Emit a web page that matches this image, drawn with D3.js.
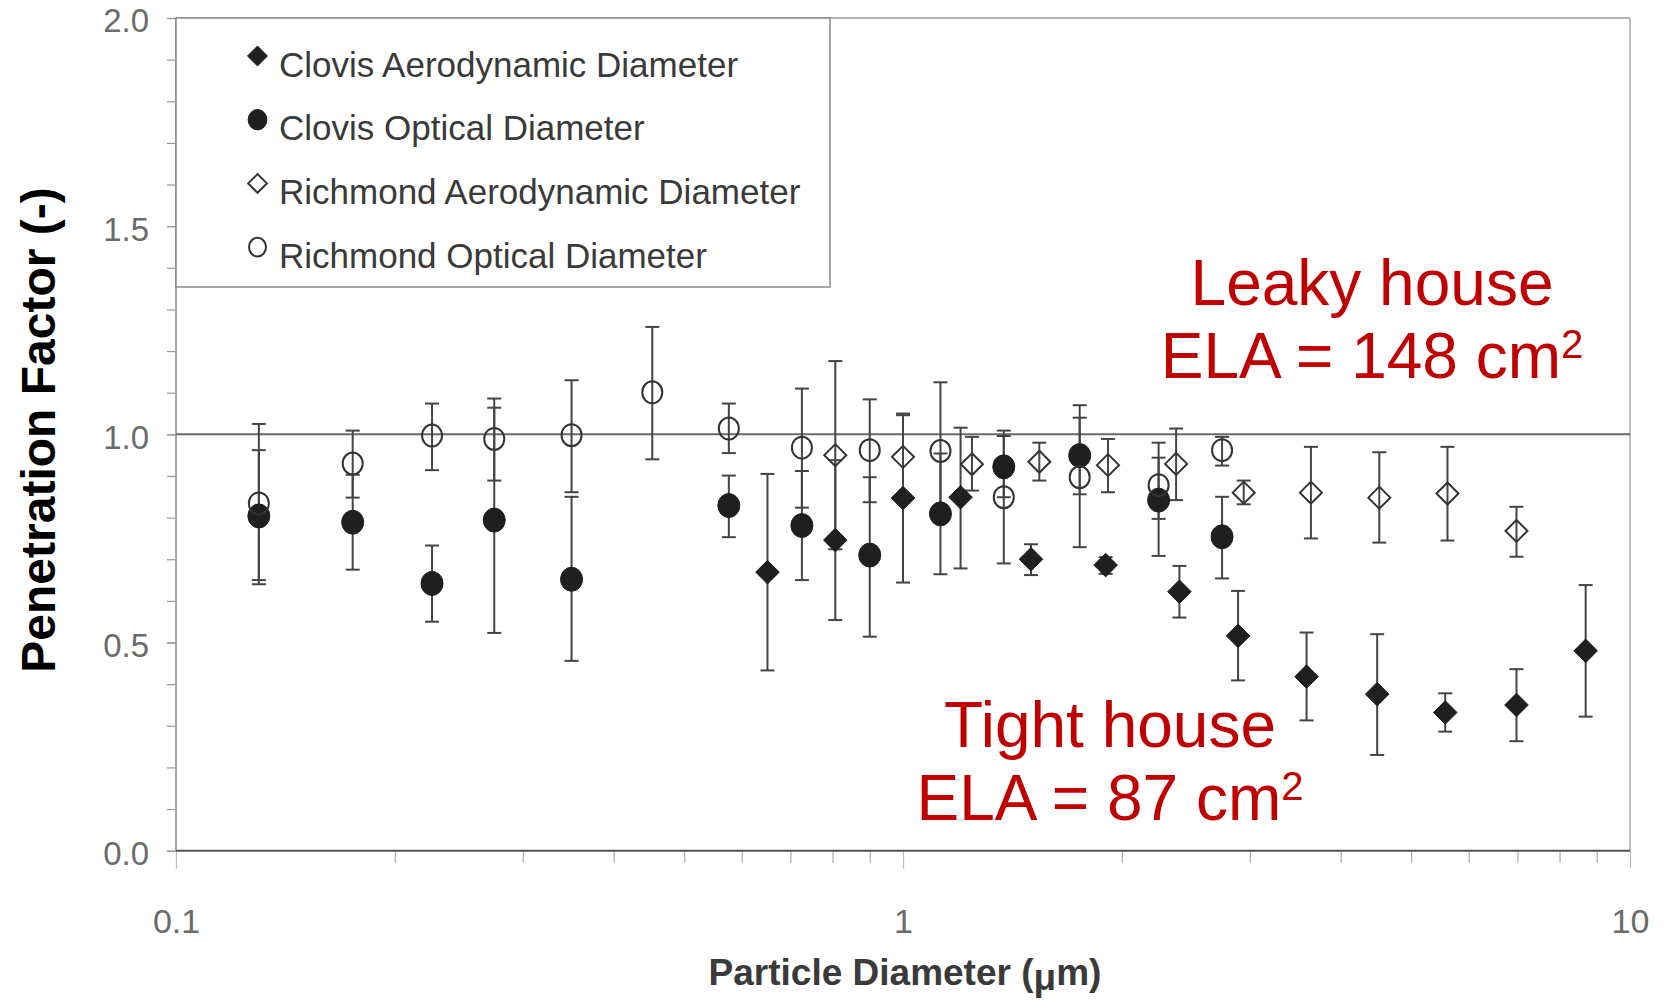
<!DOCTYPE html>
<html>
<head>
<meta charset="utf-8">
<script src="https://cdn.jsdelivr.net/npm/d3@7"></script>
<style>
  body { margin: 0; background: #fff; }
  svg { display: block; }
</style>
</head>
<body>
<svg id="chart" width="1669" height="1001"></svg>
<script>
// ---- Data: penetration factor vs particle diameter (µm), with error-bar limits ----

// Clovis, aerodynamic diameter
const clovisAeroDiam = [0.651, 0.807, 1.00, 1.20, 1.50, 1.90, 2.40, 2.89, 3.59, 4.49, 5.57, 6.98, 8.69];
const clovisAeroPF   = [0.669, 0.746, 0.847, 0.849, 0.700, 0.686, 0.622, 0.516, 0.418, 0.376, 0.332, 0.350, 0.480];
const clovisAeroLow  = [0.433, 0.554, 0.644, 0.678, 0.662, 0.665, 0.560, 0.409, 0.313, 0.230, 0.286, 0.263, 0.322];
const clovisAeroHigh = [0.905, 0.938, 1.050, 1.016, 0.736, 0.705, 0.684, 0.624, 0.524, 0.520, 0.378, 0.436, 0.638];

// Clovis, optical diameter
const clovisOptDiam = [0.130, 0.175, 0.225, 0.274, 0.350, 0.576, 0.726, 0.900, 1.126, 1.376, 1.750, 2.247, 2.747];
const clovisOptPF   = [0.804, 0.789, 0.642, 0.794, 0.652, 0.829, 0.781, 0.710, 0.809, 0.922, 0.949, 0.842, 0.754];
const clovisOptLow  = [0.650, 0.675, 0.550, 0.523, 0.456, 0.753, 0.650, 0.514, 0.664, 0.849, 0.856, 0.708, 0.654];
const clovisOptHigh = [0.962, 0.903, 0.733, 1.086, 0.850, 0.901, 0.912, 0.897, 0.954, 0.996, 1.040, 0.944, 0.850];

// Richmond, aerodynamic diameter
const richAeroDiam = [0.807, 1.00, 1.244, 1.540, 1.914, 2.375, 2.942, 3.64, 4.52, 5.61, 6.98];
const richAeroPF   = [0.950, 0.946, 0.928, 0.934, 0.926, 0.929, 0.860, 0.860, 0.848, 0.858, 0.768];
const richAeroLow  = [0.724, 0.846, 0.865, 0.889, 0.861, 0.842, 0.832, 0.750, 0.740, 0.745, 0.706];
const richAeroHigh = [1.176, 1.046, 0.994, 0.980, 0.989, 1.014, 0.889, 0.970, 0.957, 0.970, 0.826];

// Richmond, optical diameter
const richOptDiam = [0.130, 0.175, 0.225, 0.274, 0.350, 0.452, 0.576, 0.726, 0.900, 1.126, 1.376, 1.750, 2.247, 2.747];
const richOptPF   = [0.834, 0.930, 0.997, 0.989, 0.998, 1.101, 1.014, 0.968, 0.962, 0.960, 0.849, 0.897, 0.878, 0.962];
const richOptLow  = [0.640, 0.848, 0.914, 0.889, 0.861, 0.940, 0.955, 0.824, 0.837, 0.795, 0.690, 0.729, 0.797, 0.925];
const richOptHigh = [1.025, 1.009, 1.074, 1.064, 1.130, 1.258, 1.074, 1.110, 1.084, 1.125, 1.009, 1.070, 0.980, 0.994];

// Axis ticks
const yMajorTicks = [0.0, 0.5, 1.0, 1.5, 2.0];
const yMinorTicks = d3.range(0, 21).map(i => i / 10);
const xLabelTicks = [0.1, 1, 10];
const xMinorTicks = [0.2,0.3,0.4,0.5,0.6,0.7,0.8,0.9,2,3,4,5,6,7,8,9];

// Legend labels
const legendLabels = [
  "Clovis Aerodynamic Diameter",
  "Clovis Optical Diameter",
  "Richmond Aerodynamic Diameter",
  "Richmond Optical Diameter"
];

// Annotation text
const leakyLines = ["Leaky house", "ELA = 148 cm"];
const tightLines = ["Tight house", "ELA = 87 cm"];

// ---- Layout ----
const plot = { left: 176, right: 1630, top: 18, bottom: 850.7 };
const FONT = "'Liberation Sans', Arial, Helvetica, sans-serif";

const svg = d3.select("#chart");

const x = d3.scaleLog().domain([0.1, 10]).range([plot.left, plot.right]);
const y = d3.scaleLinear().domain([0, 2]).range([plot.bottom, plot.top]);

// Series definitions
const zip = (d, v, lo, hi) => d.map((di, i) => ({ d: di, v: v[i], lo: lo[i], hi: hi[i] }));
const series = [
  { name: legendLabels[0], shape: "diamond", filled: true,  pts: zip(clovisAeroDiam, clovisAeroPF, clovisAeroLow, clovisAeroHigh) },
  { name: legendLabels[1], shape: "circle",  filled: true,  pts: zip(clovisOptDiam, clovisOptPF, clovisOptLow, clovisOptHigh) },
  { name: legendLabels[2], shape: "diamond", filled: false, pts: zip(richAeroDiam, richAeroPF, richAeroLow, richAeroHigh) },
  { name: legendLabels[3], shape: "circle",  filled: false, pts: zip(richOptDiam, richOptPF, richOptLow, richOptHigh) }
];

// Square (45° rotated) diamond symbol
const squareDiamond = {
  draw(ctx, size) {
    const r = Math.sqrt(size / 2);
    ctx.moveTo(0, -r); ctx.lineTo(r, 0); ctx.lineTo(0, r); ctx.lineTo(-r, 0); ctx.closePath();
  }
};

function drawMarker(g, shape, filled, cx, cy, scale) {
  if (shape === "diamond") {
    const r = (filled ? 11.8 : 11) * scale;
    g.append("path")
      .attr("d", d3.symbol().type(squareDiamond).size(2 * r * r)())
      .attr("transform", `translate(${cx},${cy})`)
      .attr("fill", filled ? "#1f1f1f" : "none")
      .attr("stroke", filled ? "#1f1f1f" : "#333")
      .attr("stroke-width", filled ? 1 : 2);
  } else {
    g.append("ellipse")
      .attr("cx", cx).attr("cy", cy)
      .attr("rx", (filled ? 11 : 10) * scale)
      .attr("ry", (filled ? 12 : 11) * scale)
      .attr("fill", filled ? "#1f1f1f" : "none")
      .attr("stroke", filled ? "#1f1f1f" : "#333")
      .attr("stroke-width", filled ? 1 : 2);
  }
}

// ---- Frame ----
const frame = svg.append("g");
frame.append("line").attr("x1", plot.left).attr("x2", plot.right).attr("y1", plot.top).attr("y2", plot.top)
  .attr("stroke", "#9a9a9a").attr("stroke-width", 1.5);
frame.append("line").attr("x1", plot.right).attr("x2", plot.right).attr("y1", plot.top).attr("y2", plot.bottom)
  .attr("stroke", "#a8a8a8").attr("stroke-width", 1.5);
frame.append("line").attr("x1", plot.left).attr("x2", plot.left).attr("y1", plot.top).attr("y2", plot.bottom)
  .attr("stroke", "#8a8a8a").attr("stroke-width", 1.5);

// Reference line at 1.0
frame.append("line").attr("x1", plot.left).attr("x2", plot.right).attr("y1", y(1)).attr("y2", y(1))
  .attr("stroke", "#6a6a6a").attr("stroke-width", 2);

// ---- Y axis ----
const yMinor = svg.append("g").attr("transform", `translate(${plot.left},0)`)
  .call(d3.axisLeft(y).tickValues(yMinorTicks).tickSize(9).tickFormat(""));
yMinor.select(".domain").remove();
yMinor.selectAll(".tick line").attr("stroke", "#999").attr("stroke-width", 1.2);

const yAxis = svg.append("g").attr("transform", `translate(${plot.left},0)`)
  .call(d3.axisLeft(y).tickValues(yMajorTicks).tickSize(9).tickPadding(18).tickFormat(d3.format(".1f")));
yAxis.select(".domain").remove();
yAxis.selectAll(".tick line").attr("stroke", "#999").attr("stroke-width", 1.2);
yAxis.selectAll(".tick text")
  .attr("font-family", FONT).attr("font-size", 33).attr("fill", "#6b6b6b")
  .attr("dy", "0.42em");

// ---- X axis ----
const xMinor = svg.append("g").attr("transform", `translate(0,${plot.bottom})`)
  .call(d3.axisBottom(x).tickValues(xMinorTicks).tickSize(12).tickFormat(""));
xMinor.select(".domain").remove();
xMinor.selectAll(".tick line").attr("stroke", "#aaa").attr("stroke-width", 1.2);

const xAxis = svg.append("g").attr("transform", `translate(0,${plot.bottom})`)
  .call(d3.axisBottom(x).tickValues(xLabelTicks).tickSize(18).tickPadding(40).tickFormat(d3.format("")));
xAxis.select(".domain").remove();
xAxis.selectAll(".tick line").attr("stroke", "#bbb").attr("stroke-width", 1.2);
xAxis.selectAll(".tick text").attr("font-family", FONT).attr("font-size", 34).attr("fill", "#6b6b6b");

// Bottom axis line
svg.append("line").attr("x1", plot.left).attr("x2", plot.right).attr("y1", plot.bottom).attr("y2", plot.bottom)
  .attr("stroke", "#555").attr("stroke-width", 2);

// ---- Error bars ----
const bars = svg.append("g").attr("stroke", "#444").attr("stroke-width", 2).attr("fill", "none");
const capHalf = 7;
series.forEach(s => {
  s.pts.forEach(p => {
    const cx = x(p.d);
    bars.append("line").attr("x1", cx).attr("x2", cx).attr("y1", y(p.lo)).attr("y2", y(p.hi));
    [p.lo, p.hi].forEach(v => {
      bars.append("line").attr("x1", cx - capHalf).attr("x2", cx + capHalf).attr("y1", y(v)).attr("y2", y(v));
    });
  });
});

// ---- Markers ----
const marks = svg.append("g");
series.forEach(s => {
  s.pts.forEach(p => drawMarker(marks, s.shape, s.filled, x(p.d), y(p.v), 1));
});

// ---- Legend ----
const legend = svg.append("g");
legend.append("rect")
  .attr("x", plot.left).attr("y", plot.top)
  .attr("width", 654).attr("height", 269)
  .attr("fill", "#fff").attr("stroke", "#8a8a8a").attr("stroke-width", 1.5);
series.forEach((s, i) => {
  const cy = 64 + i * 63.7;
  drawMarker(legend, s.shape, s.filled, 257.5, cy - 8, 0.85);
  legend.append("text")
    .attr("x", 279).attr("y", cy + 12.5)
    .attr("font-family", FONT).attr("font-size", 35).attr("fill", "#3a3a3a")
    .text(s.name);
});

// ---- Axis titles ----
svg.append("text")
  .attr("transform", `translate(55,430) rotate(-90)`)
  .attr("text-anchor", "middle")
  .attr("font-family", FONT).attr("font-size", 48).attr("font-weight", "bold").attr("fill", "#000")
  .text("Penetration Factor (-)");

const xt = svg.append("text")
  .attr("x", 905).attr("y", 985)
  .attr("text-anchor", "middle")
  .attr("font-family", FONT).attr("font-size", 37).attr("font-weight", "bold").attr("fill", "#3a3a3a");
xt.append("tspan").text("Particle Diameter (");
xt.append("tspan").attr("dy", 5).text("μ");
xt.append("tspan").attr("dy", -5).text("m)");

// ---- Annotations ----
function annotate(lines, cx, baseline) {
  const g = svg.append("g").attr("font-family", FONT).attr("fill", "#c00000").attr("text-anchor", "middle");
  g.append("text").attr("x", cx).attr("y", baseline).attr("font-size", 64).text(lines[0]);
  const t = g.append("text").attr("x", cx).attr("y", baseline + 73).attr("font-size", 64);
  t.append("tspan").text(lines[1]);
  t.append("tspan").attr("font-size", 40).attr("dy", -20).text("2");
}
annotate(leakyLines, 1372, 305);
annotate(tightLines, 1110, 747);
</script>
</body>
</html>
